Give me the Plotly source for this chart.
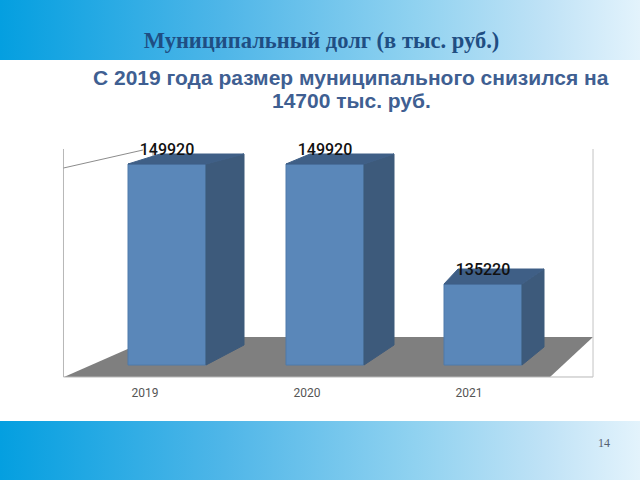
import plotly.graph_objects as go
from urllib.parse import quote

categories = ["2019", "2020", "2021"]
values = [149920, 149920, 135220]
title_text = "<b>Муниципальный долг (в тыс. руб.)</b>"
subtitle_lines = ["С 2019 года размер муниципального снизился на", "14700 тыс. руб."]
page_number = "14"

# Layout of the plot rectangle, in page pixels
W, H = 640, 480
PL, PR, PT, PB = 64, 592, 130, 377
BASE_PX = 365
SLOPE = 14700 / 120      # value units per pixel
SPACING = 158            # px between bars
FIRST_BAR = 167
BASELINE = 149920 - SLOPE * (BASE_PX - 164)
BAR_W = 78 / SPACING

# perspective of each bar: horizontal depth, top rise, bottom rise, top inset (px)
depth_dx = [38, 30, 22]
top_rise = [10, 10, 15]
bot_rise = [20, 20, 18]
top_in = [32, 24, 14]

ymin = BASELINE - (PB - BASE_PX) * SLOPE
ymax = BASELINE + (BASE_PX - PT) * SLOPE
xmin = (PL - FIRST_BAR) / SPACING
xmax = (PR - FIRST_BAR) / SPACING
# tick labels sit on their own axis because the 3D projection shifts them
xmin2 = (PL - 145) / 162
xmax2 = (PR - 145) / 162

FRONT, SIDE, TOP = "#5a87b9", "#3d5a7b", "#3f5f86"


def gradient_uri():
    svg = (
        '<svg xmlns="http://www.w3.org/2000/svg" width="640" height="60" preserveAspectRatio="none">'
        '<defs><linearGradient id="g"><stop offset="0" stop-color="#049fe0"/>'
        '<stop offset="0.35" stop-color="#4fb6e8"/><stop offset="0.65" stop-color="#90d2f0"/>'
        '<stop offset="0.85" stop-color="#bfe2f6"/><stop offset="1" stop-color="#e3f3fc"/>'
        '</linearGradient></defs><rect width="640" height="60" fill="url(#g)"/></svg>'
    )
    return "data:image/svg+xml;charset=utf-8," + quote(svg)


def px(x):
    return x / W


def py(y):
    return 1 - y / H


def path(points, closed=True):
    d = "M" + " L".join(f"{px(x):.4f},{py(y):.4f}" for x, y in points)
    return d + " Z" if closed else d


fig = go.Figure()

# Side and top faces are derived from the bar's value and position
for i, v in enumerate(values):
    hw = BAR_W / 2
    dx = depth_dx[i] / SPACING
    inset = top_in[i] / SPACING
    rt = top_rise[i] * SLOPE
    rb = bot_rise[i] * SLOPE
    fig.add_trace(go.Scatter(
        x=[i + hw, i + hw + dx, i + hw + dx, i + hw, i + hw],
        y=[v, v + rt, BASELINE + rb, BASELINE, v],
        mode="lines", fill="toself", fillcolor=SIDE,
        line=dict(color=SIDE, width=1), hoverinfo="skip", showlegend=False))
    fig.add_trace(go.Scatter(
        x=[i - hw, i + hw, i + hw + dx, i - hw + inset, i - hw],
        y=[v, v, v + rt, v + rt, v],
        mode="lines", fill="toself", fillcolor=TOP,
        line=dict(color=TOP, width=1), hoverinfo="skip", showlegend=False))

fig.add_trace(go.Bar(
    x=list(range(len(values))), y=[v - BASELINE for v in values], base=BASELINE,
    width=BAR_W, marker=dict(color=FRONT, line=dict(color="#4f7aab", width=1)),
    showlegend=False, hoverinfo="skip"))

fig.add_trace(go.Scatter(
    x=list(range(len(values))), y=[v + 5 * SLOPE for v in values],
    mode="text", text=[str(v) for v in values], textposition="top center",
    textfont=dict(family="Roboto", size=16, color="#111111", weight=500),
    showlegend=False, hoverinfo="skip"))

# Invisible trace that brings the category axis into being
fig.add_trace(go.Scatter(
    x=[0, 1, 2], y=values, xaxis="x2", mode="markers",
    marker=dict(opacity=0), showlegend=False, hoverinfo="skip"))

shapes = [
    dict(type="path", path=path([(64, 377), (550, 377), (593, 337), (155, 337)]),
         xref="paper", yref="paper", fillcolor="#7f7f7f", line_width=0, layer="below"),
    dict(type="path", path=path([(63.5, 149), (63.5, 377), (593, 377)], closed=False),
         xref="paper", yref="paper", line=dict(color="#b8b8b8", width=1), layer="below"),
    dict(type="path", path=path([(63.5, 168), (143, 150)], closed=False),
         xref="paper", yref="paper", line=dict(color="#8c8c8c", width=1), layer="below"),
    dict(type="path", path=path([(153, 150), (153, 160)], closed=False),
         xref="paper", yref="paper", line=dict(color="#a0a0a0", width=1), layer="below"),
    dict(type="path", path=path([(593, 149), (593, 377)], closed=False),
         xref="paper", yref="paper", line=dict(color="#c4c4c4", width=1), layer="below"),
]

images = [
    dict(source=gradient_uri(), xref="paper", yref="paper", x=0, y=1, sizex=1, sizey=60 / H,
         sizing="stretch", xanchor="left", yanchor="top", layer="below"),
    dict(source=gradient_uri(), xref="paper", yref="paper", x=0, y=0, sizex=1, sizey=59 / H,
         sizing="stretch", xanchor="left", yanchor="bottom", layer="below"),
]

annotations = [
    dict(text=f"<b>{subtitle_lines[0]}</b>", x=px(351), y=py(77), xref="paper", yref="paper",
         xanchor="center", yanchor="middle", showarrow=False,
         font=dict(family="Liberation Sans", size=21, color="#3f5f92")),
    dict(text=f"<b>{subtitle_lines[1]}</b>", x=px(351), y=py(100), xref="paper", yref="paper",
         xanchor="center", yanchor="middle", showarrow=False,
         font=dict(family="Liberation Sans", size=21, color="#3f5f92")),
    dict(text=page_number, x=px(604), y=py(443), xref="paper", yref="paper",
         xanchor="center", yanchor="middle", showarrow=False,
         font=dict(family="Liberation Serif", size=12, color="#556070")),
]

fig.update_layout(
    width=W, height=H, margin=dict(l=0, r=0, t=0, b=0), autosize=False,
    paper_bgcolor="white", plot_bgcolor="rgba(0,0,0,0)",
    title=dict(text=title_text, x=321.5 / W, y=py(40), xanchor="center", yanchor="middle",
               font=dict(family="Liberation Serif", size=22.5, color="#1f4e83")),
    xaxis=dict(domain=[px(PL), px(PR)], range=[xmin, xmax], visible=False, fixedrange=True),
    xaxis2=dict(domain=[px(PL), px(PR)], range=[xmin2, xmax2], overlaying="x", anchor="y",
                tickmode="array", tickvals=[0, 1, 2], ticktext=categories,
                showgrid=False, zeroline=False, showline=False, ticks="", ticklen=0,
                ticklabelstandoff=7,
                tickfont=dict(family="Roboto", size=12, color="#555555"), fixedrange=True),
    yaxis=dict(domain=[py(PB), py(PT)], range=[ymin, ymax], visible=False, fixedrange=True),
    shapes=shapes, images=images, annotations=annotations, showlegend=False,
)

fig.write_html("out.html", config={"displayModeBar": False},
               post_script="document.body.style.margin='0';document.body.style.overflow='hidden';")
